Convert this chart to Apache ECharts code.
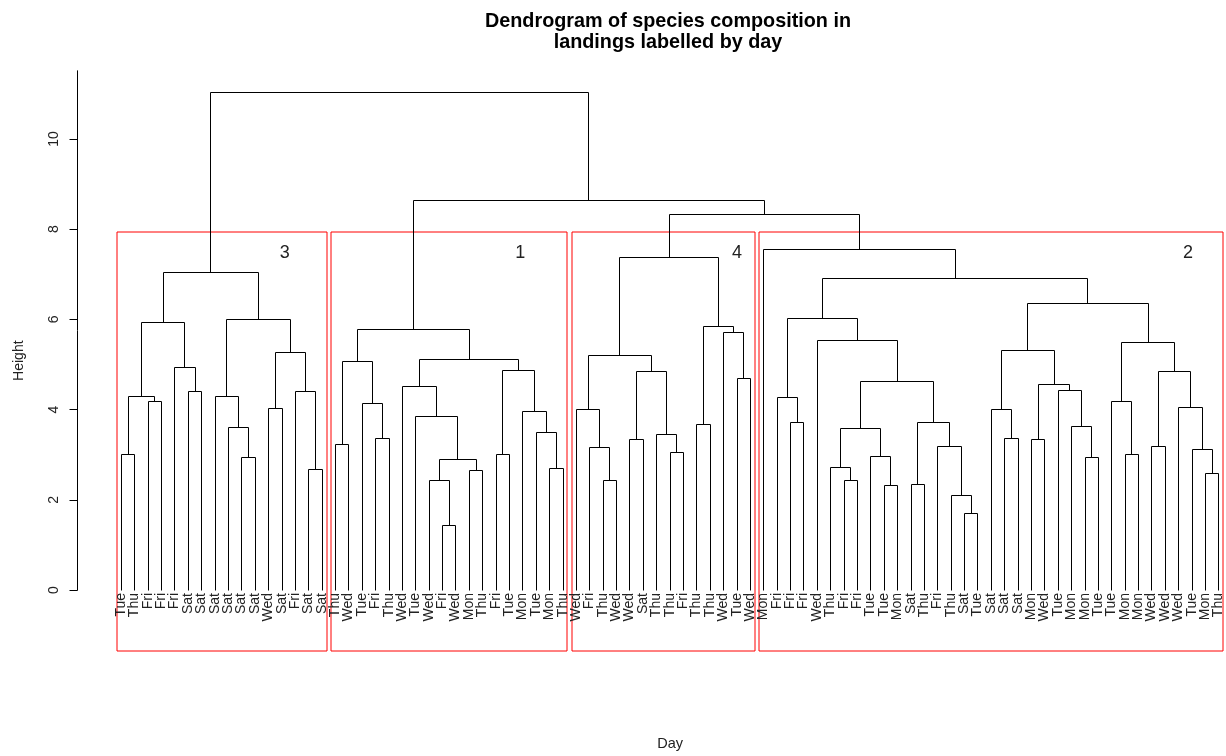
<!DOCTYPE html>
<html><head><meta charset="utf-8">
<script src="https://cdn.jsdelivr.net/npm/echarts@6/dist/echarts.min.js"></script>
<style>html,body{margin:0;padding:0;background:#fff}#c{width:1226px;height:756px}</style>
</head><body><div id="c"></div>
<script>
// ---- data ----
const leafLabels = [
  "Tue","Thu","Fri","Fri","Fri","Sat","Sat","Sat","Sat","Sat","Sat","Wed","Sat","Fri","Sat","Sat",
  "Thu","Wed","Tue","Fri","Thu","Wed","Tue","Wed","Fri","Wed","Mon","Thu","Fri","Tue","Mon","Tue","Mon","Thu",
  "Wed","Fri","Thu","Wed","Wed","Sat","Thu","Thu","Fri","Thu","Thu","Wed","Tue","Wed",
  "Mon","Fri","Fri","Fri","Wed","Thu","Fri","Fri","Tue","Tue","Mon","Sat","Thu","Fri","Thu","Sat","Tue",
  "Sat","Sat","Sat","Mon","Wed","Tue","Mon","Mon","Tue","Tue","Mon","Mon","Wed","Wed","Wed","Tue","Mon","Thu"
];
const yTicks = [0, 2, 4, 6, 8, 10];
// merges: [first leaf, last leaf of left branch, last leaf, height]
const mergesCluster3 = [
  [0,0,1,3.00],[2,2,3,4.18],[0,1,3,4.29],[5,5,6,4.41],[4,4,6,4.94],[0,3,6,5.94],
  [9,9,10,2.93],[8,8,10,3.61],[7,7,10,4.29],[11,11,12,4.02],[14,14,15,2.67],[13,13,15,4.41],
  [11,12,15,5.26],[7,10,15,5.99],[0,6,15,7.05]
];
const mergesCluster1 = [
  [16,16,17,3.22],[19,19,20,3.36],[18,18,20,4.14],[16,17,20,5.06],[24,24,25,1.43],[23,23,25,2.42],
  [26,26,27,2.64],[23,25,27,2.90],[22,22,27,3.84],[21,21,27,4.51],[28,28,29,3.00],[32,32,33,2.69],
  [31,31,33,3.50],[30,30,33,3.95],[28,29,33,4.86],[21,27,33,5.11],[16,20,33,5.77]
];
const mergesCluster4 = [
  [36,36,37,2.42],[35,35,37,3.15],[34,34,37,4.00],[38,38,39,3.34],[41,41,42,3.05],[40,40,42,3.44],
  [38,39,42,4.85],[34,37,42,5.19],[43,43,44,3.66],[46,46,47,4.69],[45,45,47,5.71],[43,44,47,5.84],
  [34,42,47,7.37]
];
const mergesCluster2 = [
  [50,50,51,3.71],[49,49,51,4.26],[54,54,55,2.42],[53,53,55,2.71],[57,57,58,2.32],[56,56,58,2.95],
  [53,55,58,3.58],[59,59,60,2.34],[63,63,64,1.69],[62,62,64,2.10],[61,61,64,3.19],[59,60,64,3.71],
  [53,58,64,4.63],[52,52,64,5.53],[49,51,64,6.02],[66,66,67,3.36],[65,65,67,4.00],[68,68,69,3.34],
  [72,72,73,2.93],[71,71,73,3.63],[70,70,73,4.43],[68,69,73,4.56],[65,67,73,5.31],[75,75,76,3.00],
  [74,74,76,4.17],[77,77,78,3.19],[81,81,82,2.59],[80,80,82,3.12],[79,79,82,4.04],[77,78,82,4.84],
  [74,76,82,5.48],[65,73,82,6.36],[49,64,82,6.91],[48,48,82,7.56]
];
const mergesTop = [[34,47,82,8.32],[16,33,82,8.63],[0,15,82,11.04]];
const clusterRanges = [[0,15],[16,33],[34,47],[48,82]];
const clusterNames = ["3","1","4","2"];
const clusterNameX = [12.2, 29.8, 46, 79.7];
const clusterNameY = 7.47;

// ---- build tree geometry ----
const allMerges = [].concat(mergesCluster3, mergesCluster1, mergesCluster4, mergesCluster2, mergesTop)
  .sort((a, b) => a[3] - b[3]);
const nodes = {};
leafLabels.forEach((l, i) => { nodes[i + '-' + i] = { x: i, h: 0 }; });
const treeData = allMerges.map(m => {
  const L = nodes[m[0] + '-' + m[1]], R = nodes[(m[1] + 1) + '-' + m[2]];
  nodes[m[0] + '-' + m[2]] = { x: (L.x + R.x) / 2, h: m[3] };
  return [L.x, L.h, R.x, R.h, m[3]];
});
const heightsDesc = allMerges.map(m => m[3]).sort((a, b) => b - a);
const k = clusterRanges.length;
const boxTop = (heightsDesc[k - 2] + heightsDesc[k - 1]) / 2;

const nLeaf = leafLabels.length;
const X_MIN = -0.04 * (nLeaf - 1), X_MAX = (nLeaf - 1) * 1.04;
const Y_MIN = -1.35, Y_MAX = 11.52;
const FONT = "'Liberation Sans', Arial, sans-serif";
const GRID_LEFT = 77.5, GRID_WIDTH = (X_MAX - X_MIN) * 13.384;

function snap(v) { return Math.round(v - 0.5) + 0.5; }

const chart = echarts.init(document.getElementById('c'), null, { renderer: 'canvas' });
chart.setOption({
  backgroundColor: '#fff',
  animation: false,
  title: {
    text: 'Dendrogram of species composition in\nlandings labelled by day',
    left: 663, top: 6, textAlign: 'center',
    textStyle: { fontFamily: FONT, fontSize: 19.8, fontWeight: 'bold', color: '#000', lineHeight: 21 }
  },
  grid: { left: GRID_LEFT, width: GRID_WIDTH, top: 70.4, bottom: 105.1, containLabel: false, outerBoundsMode: 'none' },
  xAxis: {
    type: 'value', min: X_MIN, max: X_MAX,
    axisLine: { show: false, onZero: false }, axisTick: { show: false }, axisLabel: { show: false }, splitLine: { show: false },
    name: 'Day', nameLocation: 'middle', nameGap: 86,
    nameTextStyle: { fontFamily: FONT, fontSize: 14.5, color: '#222' }
  },
  yAxis: {
    type: 'value', min: Y_MIN, max: Y_MAX,
    axisLine: { show: false, onZero: false },
    axisTick: { show: true, length: 8, customValues: yTicks, lineStyle: { color: '#000', width: 1 } },
    axisLabel: { show: true, customValues: yTicks, rotate: 90, margin: 16, fontFamily: FONT, fontSize: 14, color: '#222' },
    splitLine: { show: false },
    name: 'Height', nameLocation: 'middle', nameGap: 51, nameRotate: 90,
    nameTextStyle: { fontFamily: FONT, fontSize: 14, color: '#222' }
  },
  series: [
    {
      type: 'custom', name: 'axis', silent: true, clip: false,
      data: [[X_MIN, 0, Y_MAX]],
      renderItem: (p, api) => {
        const a = api.coord([api.value(0), api.value(1)]);
        const b = api.coord([api.value(0), api.value(2)]);
        return { type: 'line', shape: { x1: snap(a[0]), y1: snap(a[1]), x2: snap(b[0]), y2: b[1] },
          style: { stroke: '#000', lineWidth: 1 } };
      }
    },
    {
      type: 'custom', name: 'boxes', silent: true, clip: false,
      data: clusterRanges.map(r => [r[0] - 0.34, r[1] + 0.33, Y_MIN, boxTop]),
      renderItem: (p, api) => {
        const a = api.coord([api.value(0), api.value(3)]);
        const b = api.coord([api.value(1), api.value(2)]);
        const x1 = Math.round(a[0]), y1 = Math.round(a[1]), x2 = Math.round(b[0]), y2 = Math.round(b[1]);
        return { type: 'polyline', shape: { points: [[x1, y1], [x2, y1], [x2, y2], [x1, y2], [x1, y1]] },
          style: { stroke: '#ff0000', lineWidth: 1, fill: null } };
      }
    },
    {
      type: 'custom', name: 'tree', silent: true, clip: false,
      data: treeData,
      encode: { x: [0, 2], y: [1, 3, 4] },
      renderItem: (p, api) => {
        const pts = [
          api.coord([api.value(0), api.value(1)]),
          api.coord([api.value(0), api.value(4)]),
          api.coord([api.value(2), api.value(4)]),
          api.coord([api.value(2), api.value(3)])
        ].map(q => [snap(q[0]), snap(q[1])]);
        return { type: 'polyline', shape: { points: pts }, style: { stroke: '#000', lineWidth: 1, fill: null } };
      }
    },
    {
      type: 'custom', name: 'leafLabels', silent: true, clip: false,
      data: leafLabels.map((l, i) => [i, 0]),
      renderItem: (p, api) => {
        const q = api.coord([api.value(0), api.value(1)]);
        return { type: 'text', x: snap(q[0]), y: q[1] + 3, rotation: Math.PI / 2,
          style: { text: leafLabels[p.dataIndex], align: 'right', verticalAlign: 'middle',
            fontFamily: FONT, fontSize: 14, fill: '#222' } };
      }
    },
    {
      type: 'custom', name: 'clusterNames', silent: true, clip: false,
      data: clusterNames.map((n, i) => [clusterNameX[i], clusterNameY]),
      renderItem: (p, api) => {
        const q = api.coord([api.value(0), api.value(1)]);
        return { type: 'text', x: q[0], y: q[1],
          style: { text: clusterNames[p.dataIndex], align: 'center', verticalAlign: 'middle',
            fontFamily: FONT, fontSize: 18, fill: '#222' } };
      }
    }
  ]
});
</script></body></html>
